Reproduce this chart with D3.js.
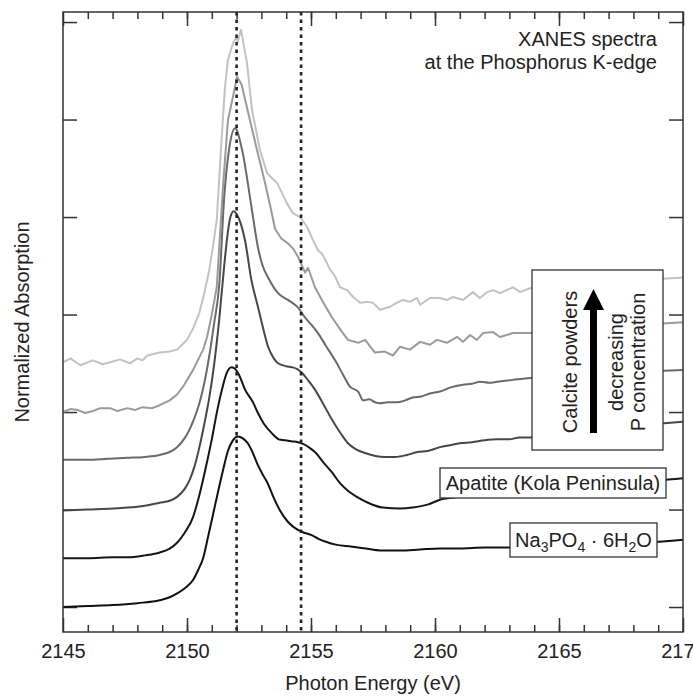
<!DOCTYPE html>
<html>
<head>
<meta charset="utf-8">
<script src="https://cdn.jsdelivr.net/npm/d3@7"></script>
<style>
  body { margin: 0; background: #fff; }
  svg { font-family: "Liberation Sans", Arial, sans-serif; }
</style>
</head>
<body>
<div id="chart"></div>
<script>
// tick values
const energyTicks = [2145, 2150, 2155, 2160, 2165, 2170];
const minorTicks = d3.range(2146, 2170, 1);
const offsetTicks = [0, 1, 2, 3, 4, 5, 6];
const edgeLines = [2152.0, 2154.6];

// spectra, [photon energy (eV), normalized absorption + offset]
const na3po4 = [[2145.0,0.00],[2146.0,0.01],[2147.0,0.02],[2148.0,0.04],[2148.9,0.07],[2149.3,0.10],[2149.6,0.14],[2150.0,0.21],[2150.25,0.28],[2150.45,0.38],[2150.65,0.50],[2150.85,0.72],[2151.05,0.95],[2151.25,1.18],[2151.45,1.40],[2151.65,1.60],[2151.85,1.71],[2152.05,1.75],[2152.25,1.73],[2152.45,1.68],[2152.62,1.60],[2152.85,1.46],[2153.05,1.36],[2153.25,1.27],[2153.5,1.12],[2153.75,0.99],[2154.05,0.88],[2154.3,0.82],[2154.65,0.77],[2155.0,0.74],[2155.3,0.70],[2155.6,0.67],[2156.0,0.64],[2156.6,0.62],[2157.2,0.60],[2157.8,0.58],[2158.6,0.58],[2159.4,0.59],[2160.2,0.60],[2161.0,0.60],[2162.0,0.61],[2163.0,0.61],[2164.0,0.61],[2165.0,0.62],[2166.0,0.63],[2167.0,0.65],[2168.0,0.66],[2169.0,0.67],[2170.0,0.69]];

const apatite = [[2145.0,0.50],[2146.0,0.50],[2147.0,0.51],[2147.6,0.51],[2148.3,0.53],[2148.9,0.56],[2149.3,0.60],[2149.6,0.66],[2149.9,0.76],[2150.24,0.92],[2150.5,1.15],[2150.8,1.48],[2151.0,1.72],[2151.2,1.99],[2151.4,2.22],[2151.6,2.40],[2151.8,2.46],[2151.95,2.44],[2152.1,2.38],[2152.34,2.23],[2152.66,2.10],[2152.86,1.99],[2153.1,1.88],[2153.43,1.78],[2153.7,1.72],[2153.95,1.71],[2154.2,1.70],[2154.48,1.69],[2154.7,1.67],[2154.96,1.63],[2155.2,1.58],[2155.48,1.49],[2155.85,1.38],[2156.17,1.27],[2156.5,1.19],[2156.85,1.13],[2157.3,1.07],[2157.9,1.02],[2158.6,1.01],[2159.1,1.02],[2159.7,1.05],[2160.2,1.10],[2161.0,1.13],[2162.0,1.16],[2163.0,1.19],[2164.0,1.21],[2165.0,1.23],[2166.0,1.25],[2167.0,1.27],[2168.0,1.29],[2169.0,1.30],[2170.0,1.32]];

const calcite1 = [[2145.0,0.99],[2146.0,1.00],[2147.0,1.01],[2147.6,1.02],[2148.3,1.04],[2148.9,1.07],[2149.3,1.09],[2149.6,1.13],[2149.9,1.21],[2150.1,1.30],[2150.3,1.44],[2150.5,1.64],[2150.7,1.88],[2150.9,2.15],[2151.1,2.50],[2151.3,2.95],[2151.5,3.50],[2151.65,3.85],[2151.75,4.00],[2151.88,4.06],[2152.0,4.03],[2152.34,3.76],[2152.6,3.35],[2152.86,3.08],[2153.05,2.88],[2153.27,2.67],[2153.5,2.55],[2153.67,2.50],[2154.0,2.47],[2154.23,2.46],[2154.45,2.44],[2154.64,2.40],[2154.9,2.32],[2155.16,2.23],[2155.5,2.08],[2155.85,1.92],[2156.2,1.78],[2156.49,1.68],[2156.8,1.62],[2157.18,1.58],[2157.6,1.55],[2157.98,1.54],[2158.4,1.54],[2158.87,1.56],[2159.3,1.59],[2159.7,1.60],[2160.2,1.64],[2160.6,1.66],[2161.0,1.68],[2161.5,1.69],[2162.0,1.71],[2162.5,1.72],[2163.0,1.72],[2163.4,1.74],[2163.9,1.74],[2165.0,1.78],[2166.0,1.81],[2167.0,1.84],[2168.0,1.86],[2169.0,1.88],[2170.0,1.90]];

const calcite2 = [[2145.0,1.51],[2146.0,1.51],[2146.8,1.52],[2147.6,1.53],[2148.3,1.54],[2148.9,1.56],[2149.3,1.59],[2149.6,1.64],[2149.9,1.73],[2150.1,1.82],[2150.3,1.94],[2150.5,2.09],[2150.7,2.30],[2150.9,2.58],[2151.1,2.92],[2151.3,3.30],[2151.5,4.20],[2151.7,4.70],[2151.94,4.91],[2152.22,4.69],[2152.62,4.07],[2152.86,3.69],[2153.05,3.50],[2153.27,3.38],[2153.67,3.22],[2154.07,3.15],[2154.48,3.07],[2154.76,2.97],[2155.0,2.90],[2155.28,2.81],[2155.6,2.68],[2155.97,2.53],[2156.3,2.38],[2156.57,2.26],[2156.9,2.21],[2157.1,2.12],[2157.35,2.13],[2157.58,2.10],[2157.78,2.09],[2158.1,2.10],[2158.47,2.10],[2158.8,2.12],[2159.11,2.15],[2159.45,2.16],[2159.8,2.19],[2160.2,2.21],[2160.6,2.25],[2161.13,2.28],[2161.5,2.29],[2161.81,2.31],[2162.2,2.30],[2162.5,2.31],[2163.15,2.33],[2163.83,2.35],[2165.0,2.37],[2166.5,2.39],[2168.0,2.41],[2170.0,2.43]];

const calcite3 = [[2145.0,2.00],[2145.3,2.03],[2145.6,2.02],[2145.9,1.99],[2146.2,2.01],[2146.5,2.04],[2146.9,2.04],[2147.2,2.01],[2147.6,2.04],[2147.9,2.02],[2148.2,2.05],[2148.6,2.04],[2148.9,2.07],[2149.3,2.12],[2149.6,2.18],[2149.84,2.26],[2150.24,2.43],[2150.65,2.64],[2150.81,2.77],[2151.0,3.00],[2151.2,3.28],[2151.45,4.31],[2151.65,4.99],[2151.85,5.23],[2152.02,5.44],[2152.2,5.36],[2152.42,5.12],[2152.82,4.69],[2153.1,4.40],[2153.35,4.12],[2153.55,3.88],[2153.8,3.78],[2154.07,3.73],[2154.3,3.67],[2154.48,3.59],[2154.76,3.43],[2154.88,3.48],[2155.16,3.28],[2155.5,3.12],[2155.85,2.97],[2156.2,2.84],[2156.49,2.74],[2156.9,2.71],[2157.18,2.74],[2157.58,2.61],[2157.98,2.62],[2158.31,2.58],[2158.59,2.67],[2158.99,2.64],[2159.4,2.72],[2159.8,2.69],[2160.08,2.74],[2160.48,2.71],[2160.89,2.77],[2161.13,2.72],[2161.41,2.79],[2161.69,2.74],[2161.94,2.81],[2162.34,2.82],[2162.62,2.77],[2163.15,2.81],[2163.83,2.81],[2165.0,2.84],[2166.5,2.86],[2168.0,2.89],[2170.0,2.92]];

const calcite4 = [[2145.0,2.51],[2145.3,2.55],[2145.7,2.48],[2146.2,2.53],[2146.6,2.49],[2146.9,2.51],[2147.3,2.54],[2147.7,2.50],[2148.0,2.55],[2148.2,2.53],[2148.4,2.58],[2148.9,2.61],[2149.3,2.62],[2149.6,2.64],[2149.8,2.69],[2150.0,2.74],[2150.25,2.86],[2150.5,3.02],[2150.7,3.22],[2150.9,3.46],[2151.05,3.70],[2151.2,3.97],[2151.4,4.82],[2151.53,5.33],[2151.65,5.61],[2151.85,5.78],[2151.98,5.84],[2152.05,5.80],[2152.18,5.92],[2152.3,5.75],[2152.42,5.58],[2152.62,5.10],[2152.94,4.69],[2153.23,4.45],[2153.63,4.35],[2154.03,4.14],[2154.27,4.04],[2154.56,4.00],[2154.84,3.90],[2155.05,3.78],[2155.28,3.66],[2155.45,3.62],[2155.6,3.55],[2155.77,3.46],[2155.95,3.40],[2156.17,3.28],[2156.45,3.25],[2156.7,3.18],[2156.98,3.12],[2157.26,3.13],[2157.5,3.12],[2157.78,3.05],[2158.19,3.08],[2158.45,3.12],[2158.71,3.15],[2158.99,3.13],[2159.27,3.17],[2159.4,3.10],[2159.8,3.17],[2160.2,3.17],[2160.48,3.15],[2160.73,3.18],[2161.13,3.15],[2161.53,3.23],[2161.81,3.17],[2162.1,3.23],[2162.34,3.25],[2162.62,3.22],[2163.15,3.28],[2163.43,3.23],[2163.83,3.27],[2165.0,3.30],[2166.5,3.33],[2168.0,3.35],[2170.0,3.38]];

const width = 693, height = 699;
const margin = {top: 12, right: 10, bottom: 67, left: 63};

const svg = d3.select('#chart')
  .append('svg')
  .attr('width', width)
  .attr('height', height);

const x = d3.scaleLinear()
  .domain([2145, 2170])
  .range([margin.left, width - margin.right]);

const y = d3.scaleLinear()
  .domain([-0.256, 6.103])
  .range([height - margin.bottom, margin.top]);

const plotBottom = height - margin.bottom, plotTop = margin.top;
const plotLeft = margin.left, plotRight = width - margin.right;

//Axes, ticks pointing inwards
function styleAxis(g) {
  g.select('.domain').remove();
  g.selectAll('.tick line').attr('stroke', '#333').attr('stroke-width', 1.5);
  g.attr('font-size', 20).attr('font-family', null);
  g.selectAll('.tick text').attr('fill', '#222');
}

svg.append('g')
  .attr('transform', `translate(0,${plotBottom})`)
  .call(d3.axisBottom(x).tickValues(minorTicks).tickSizeInner(-7).tickSizeOuter(0).tickFormat(''))
  .call(styleAxis);

svg.append('g')
  .attr('transform', `translate(0,${plotBottom})`)
  .call(d3.axisBottom(x).tickValues(energyTicks).tickSizeInner(-14).tickSizeOuter(0).tickPadding(12).tickFormat(d3.format('d')))
  .call(styleAxis);

svg.append('g')
  .attr('transform', `translate(0,${plotTop})`)
  .call(d3.axisTop(x).tickValues(minorTicks).tickSizeInner(-7).tickSizeOuter(0).tickFormat(''))
  .call(styleAxis);

svg.append('g')
  .attr('transform', `translate(0,${plotTop})`)
  .call(d3.axisTop(x).tickValues(energyTicks).tickSizeInner(-14).tickSizeOuter(0).tickFormat(''))
  .call(styleAxis);

svg.append('g')
  .attr('transform', `translate(${plotLeft},0)`)
  .call(d3.axisLeft(y).tickValues(offsetTicks).tickSizeInner(-14).tickSizeOuter(0).tickFormat(''))
  .call(styleAxis);

svg.append('g')
  .attr('transform', `translate(${plotRight},0)`)
  .call(d3.axisRight(y).tickValues(offsetTicks).tickSizeInner(-14).tickSizeOuter(0).tickFormat(''))
  .call(styleAxis);

//Spectra
const series = [
  {values: calcite4, color: '#c2c2c2', curve: d3.curveLinear},
  {values: calcite3, color: '#9a9a9a', curve: d3.curveLinear},
  {values: calcite2, color: '#6a6a6a', curve: d3.curveMonotoneX},
  {values: calcite1, color: '#474747', curve: d3.curveMonotoneX},
  {values: apatite, color: '#161616', curve: d3.curveMonotoneX},
  {values: na3po4, color: '#111111', curve: d3.curveMonotoneX}
];

svg.selectAll('.spectrum')
  .data(series)
  .enter()
  .append('path')
  .attr('class', 'spectrum')
  .attr('d', d => d3.line().curve(d.curve).x(p => x(p[0])).y(p => y(p[1]))(d.values))
  .attr('fill', 'none')
  .attr('stroke', d => d.color)
  .attr('stroke-width', 2)
  .attr('stroke-linejoin', 'round');

//Dotted reference lines
svg.selectAll('.edge')
  .data(edgeLines)
  .enter()
  .append('line')
  .attr('class', 'edge')
  .attr('x1', d => x(d)).attr('x2', d => x(d))
  .attr('y1', plotTop).attr('y2', plotBottom)
  .attr('stroke', '#222')
  .attr('stroke-width', 2.6)
  .attr('stroke-dasharray', '3.5,4');

//Frame
svg.append('rect')
  .attr('x', plotLeft).attr('y', plotTop)
  .attr('width', plotRight - plotLeft).attr('height', plotBottom - plotTop)
  .attr('fill', 'none')
  .attr('stroke', '#333')
  .attr('stroke-width', 1.5);

//Axis titles
svg.append('text')
  .attr('x', (plotLeft + plotRight) / 2)
  .attr('y', 690)
  .attr('text-anchor', 'middle')
  .attr('font-size', 20)
  .attr('fill', '#222')
  .text('Photon Energy (eV)');

svg.append('text')
  .attr('transform', `translate(29,${(plotTop + plotBottom) / 2}) rotate(-90)`)
  .attr('text-anchor', 'middle')
  .attr('font-size', 20)
  .attr('fill', '#222')
  .text('Normalized Absorption');

//Title
const title = svg.append('g').attr('font-size', 20).attr('fill', '#222').attr('text-anchor', 'end');
title.append('text').attr('x', 657).attr('y', 46).text('XANES spectra');
title.append('text').attr('x', 657).attr('y', 69).text('at the Phosphorus K-edge');

//Label boxes
function box(x0, y0, w, h) {
  svg.append('rect')
    .attr('x', x0).attr('y', y0)
    .attr('width', w).attr('height', h)
    .attr('fill', '#fff')
    .attr('stroke', '#333')
    .attr('stroke-width', 1.3);
}

box(532, 270, 131, 180);
const calc = svg.append('g').attr('font-size', 20).attr('fill', '#222').attr('text-anchor', 'middle');
calc.append('text').attr('transform', 'translate(577,362) rotate(-90)').text('Calcite powders');
calc.append('text').attr('transform', 'translate(623,362) rotate(-90)').text('decreasing');
calc.append('text').attr('transform', 'translate(645,362) rotate(-90)').text('P concentration');
svg.append('path')
  .attr('d', 'M590,433 L590,310 L583,310 L593.5,289 L604,310 L597,310 L597,433 Z')
  .attr('fill', '#000');

box(440, 468, 226, 30);
svg.append('text')
  .attr('x', 553).attr('y', 490)
  .attr('text-anchor', 'middle')
  .attr('font-size', 20)
  .attr('fill', '#222')
  .text('Apatite (Kola Peninsula)');

box(510, 523, 147, 34);
const na = svg.append('text')
  .attr('x', 583.5).attr('y', 547)
  .attr('text-anchor', 'middle')
  .attr('font-size', 20)
  .attr('fill', '#222');
[['Na', 0], ['3', 1], ['PO', 0], ['4', 1], [' \u00b7 6H', 0], ['2', 1], ['O', 0]].forEach((t, i, arr) => {
  const prevSub = i > 0 && arr[i - 1][1];
  na.append('tspan')
    .attr('font-size', t[1] ? 14 : 20)
    .attr('dy', t[1] ? 5 : (prevSub ? -5 : 0))
    .text(t[0]);
});
</script>
</body>
</html>
